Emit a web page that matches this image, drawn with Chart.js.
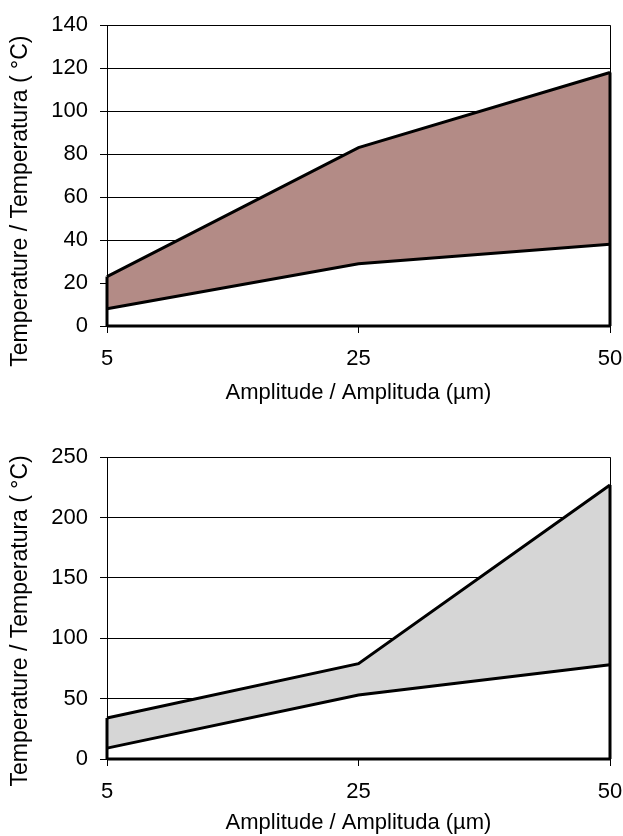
<!DOCTYPE html>
<html><head><meta charset="utf-8">
<script src="https://cdn.jsdelivr.net/npm/chart.js@4/dist/chart.umd.min.js"></script>
<style>
html,body{margin:0;padding:0;background:#fff;}
.box{position:absolute;left:0;width:623px;}
#b1{top:0;height:406px;}
#b2{top:432px;height:404px;}
</style></head><body>
<div class="box" id="b1"><canvas id="c1"></canvas></div>
<div class="box" id="b2"><canvas id="c2"></canvas></div>
<script>
const amplitudes = ['5', '25', '50'];
const topLower = [8, 29, 38];
const topUpper = [23, 83, 118];
const botLower = [9, 53, 78];
const botUpper = [34, 79, 227];
const xTitle = 'Amplitude / Amplituda (µm)';
const yTitle = 'Temperature / Temperatura ( °C)';
const FONT = 'Arial, "Liberation Sans", sans-serif';

const edges = {
  id: 'edges',
  afterDatasetsDraw(chart) {
    const {ctx, chartArea, scales: {x, y}} = chart;
    const upper = chart.data.datasets[1].data;
    ctx.save();
    ctx.strokeStyle = '#000';
    ctx.lineWidth = 1;
    ctx.beginPath();
    ctx.moveTo(chartArea.right + 0.5, chartArea.top);
    ctx.lineTo(chartArea.right + 0.5, chartArea.bottom);
    ctx.stroke();
    ctx.lineWidth = 3;
    [0, upper.length - 1].forEach(i => {
      const px = x.getPixelForValue(i);
      ctx.beginPath();
      ctx.moveTo(px, y.getPixelForValue(0));
      ctx.lineTo(px, y.getPixelForValue(upper[i]));
      ctx.stroke();
    });
    ctx.beginPath();
    ctx.moveTo(chartArea.left, y.getPixelForValue(0));
    ctx.lineTo(chartArea.right, y.getPixelForValue(0));
    ctx.stroke();
    ctx.restore();
  }
};

function make(id, lower, upper, yMax, yStep, fillColor, H, plotBottom, titlePad) {
  return new Chart(document.getElementById(id), {
    type: 'line',
    data: {
      labels: amplitudes,
      datasets: [
        {data: lower, borderColor: '#000', borderWidth: 3, backgroundColor: '#fff', fill: 'origin', pointRadius: 0, tension: 0},
        {data: upper, borderColor: '#000', borderWidth: 3, backgroundColor: fillColor, fill: '-1', pointRadius: 0, tension: 0}
      ]
    },
    options: {
      responsive: true,
      maintainAspectRatio: false,
      animation: false,
      layout: {padding: {left: 7, right: 0, top: 25, bottom: 0}},
      plugins: {legend: {display: false}, tooltip: {enabled: false}},
      scales: {
        x: {
          offset: false,
          grid: {drawOnChartArea: false, drawTicks: true, tickLength: 7, color: '#000'},
          border: {color: '#000', width: 1},
          ticks: {color: '#000', font: {family: FONT, size: 22}, padding: 13, maxRotation: 0},
          title: {display: true, text: xTitle, color: '#000', font: {family: FONT, size: 22}, padding: 0},
          afterFit(s) { s.height = H - plotBottom; s.paddingRight = 13; s.paddingLeft = 0; }
        },
        y: {
          min: 0, max: yMax,
          grid: {color: '#000', lineWidth: 1, tickLength: 7, drawTicks: true},
          border: {color: '#000', width: 1},
          ticks: {stepSize: yStep, color: '#000', font: {family: FONT, size: 22}, padding: 12},
          title: {display: true, text: yTitle + titlePad, color: '#000', font: {family: FONT, size: 23}, padding: 0},
          afterFit(s) { s.width = 100; }
        }
      }
    },
    plugins: [edges]
  });
}
make('c1', topLower, topUpper, 140, 20, '#b38b86', 406, 326, '        ');
make('c2', botLower, botUpper, 250, 50, '#d6d6d6', 404, 327, '    ');
</script>
</body></html>
